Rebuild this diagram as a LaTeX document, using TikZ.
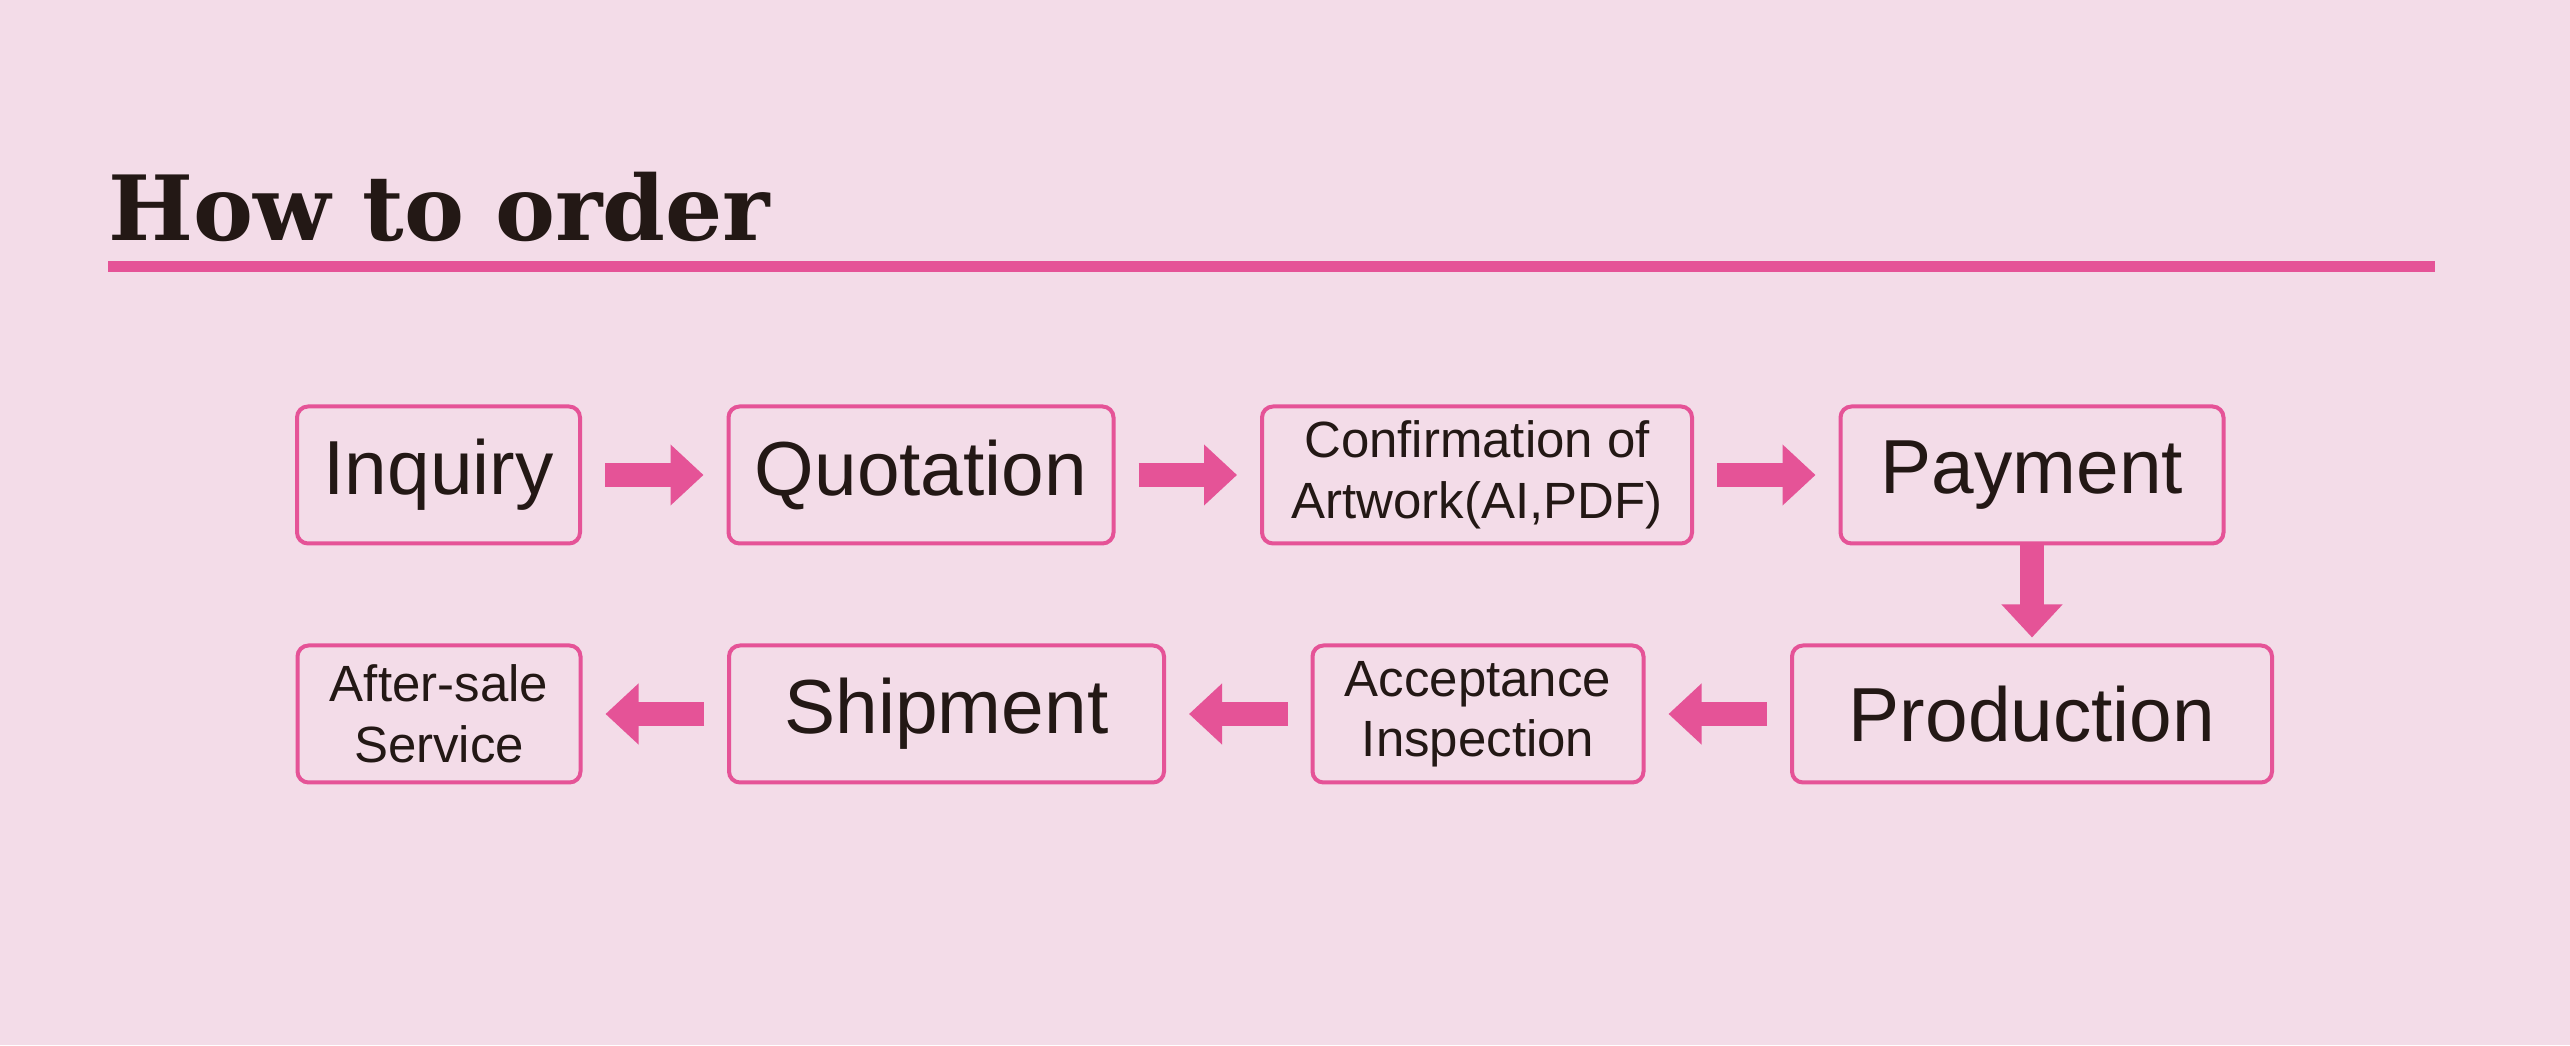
\documentclass[tikz,border=0pt]{standalone}
\usepackage{fontspec}
\setmainfont{Liberation Sans}
\newfontfamily\titlefont{DejaVu Serif}
\usetikzlibrary{arrows.meta, positioning}
\definecolor{bgpink}{HTML}{F3DCE8}
\definecolor{flowpink}{HTML}{E55397}
\definecolor{inkdark}{HTML}{231815}

\begin{document}
\begin{tikzpicture}[
        orderbox/.style={draw=flowpink, line width=0.04cm, rounded corners=0.11cm,
            text=inkdark, minimum height=1.37cm, align=center, inner sep=0pt},
        bigtext/.style={font=\fontsize{21.8}{26}\selectfont},
        smalltext/.style={font=\fontsize{14.5}{17.2}\selectfont},
        flowarrow/.style={draw=flowpink, line width=0.24cm,
            -{Triangle[width=0.59cm, length=0.33cm]},
            shorten <=0.23cm, shorten >=0.23cm},
        node distance=0.98cm and 1.445cm
    ]

    % Background and page frame
    \fill[bgpink] (0,0) rectangle (25.7,10.45);
    \useasboundingbox (0,0) rectangle (25.7,10.45);

    % Heading with its rule
    \node[anchor=base west, inner sep=0pt, text=inkdark,
        font=\titlefont\bfseries\fontsize{25.6}{30}\selectfont] (title) at (1.08,8.04) {How to order};
    \fill[flowpink] (1.08,7.727) rectangle (24.35,7.843);

    % First row, left to right
    \node[orderbox, bigtext, minimum width=2.83cm] (inquiry) at (4.385,5.70) {Inquiry};
    \node[orderbox, bigtext, minimum width=3.85cm, right=of inquiry] (quotation) {Quotation};
    \node[orderbox, smalltext, minimum width=4.30cm, right=of quotation] (artwork) {Confirmation of\\Artwork(AI,PDF)};
    \node[orderbox, bigtext, minimum width=3.83cm, right=of artwork] (payment) {Payment};

    % Second row, right to left
    \node[orderbox, bigtext, minimum width=4.80cm, below=of payment] (production) {Production};
    \node[orderbox, smalltext, minimum width=3.31cm, left=of production] (inspection) {Acceptance\\Inspection};
    \node[orderbox, bigtext, minimum width=4.35cm, left=of inspection] (shipment) {Shipment};
    \node[orderbox, smalltext, minimum width=2.83cm, left=of shipment] (service) {After-sale\\Service};

    % Arrows between the steps
    \draw[flowarrow] (inquiry) -- (quotation);
    \draw[flowarrow] (quotation) -- (artwork);
    \draw[flowarrow] (artwork) -- (payment);
    \draw[flowarrow, shorten <=0cm, shorten >=0.06cm] (payment) -- (production);
    \draw[flowarrow] (production) -- (inspection);
    \draw[flowarrow] (inspection) -- (shipment);
    \draw[flowarrow] (shipment) -- (service);

\end{tikzpicture}
\end{document}
